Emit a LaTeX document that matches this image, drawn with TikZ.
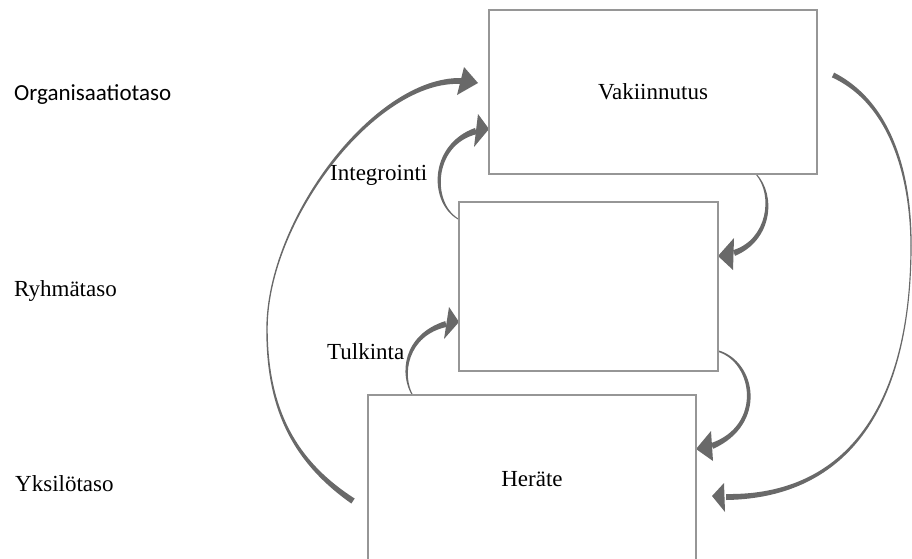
\documentclass[tikz,border=0pt]{standalone}
\usepackage{fontspec}
\setmainfont{Liberation Serif}
\newfontfamily\calibrifont{Carlito}
\usetikzlibrary{calc}

\definecolor{boxline}{RGB}{150,150,150}
\definecolor{arrowfill}{RGB}{105,105,105}

% Tapered cubic stroke: #1..#4 are the curve's points (start, two controls, end),
% #5..#8 the half widths at those points.
\newcommand\tapercurve[8]{%
  \fill[arrowfill]
    ($(#1)!#5!90:(#2)$) .. controls ($(#2)!#6!90:(#3)$) and ($(#3)!#7!-90:(#2)$) .. ($(#4)!#8!-90:(#3)$)
    -- ($(#4)!#8!90:(#3)$) .. controls ($(#3)!#7!90:(#2)$) and ($(#2)!#6!-90:(#3)$) .. ($(#1)!#5!-90:(#2)$)
    -- cycle;
}
% Triangular arrow head: tip and the two base corners
\newcommand\headtri[3]{\fill[arrowfill] (#1) -- (#2) -- (#3) -- cycle;}

\begin{document}
\begin{tikzpicture}[x=1pt,y=-1pt,
  box/.style={draw=boxline,line width=1.2pt,fill=white,rectangle,inner sep=0pt},
  serifl/.style={inner sep=0pt,text=black,font=\fontsize{23}{27}\selectfont},
  sansl/.style={inner sep=0pt,text=black,font=\calibrifont\fontsize{23}{27}\selectfont}]

\useasboundingbox (0,0) rectangle (912,558);
\clip (0,0) rectangle (912,558);

% ---------- curve points ----------
% long arc on the left (individual -> organisation)
\coordinate (a0) at (353,501); \coordinate (a1) at (295,462);
\coordinate (a2) at (267,410); \coordinate (a3) at (267,329);
\coordinate (a4) at (267,219); \coordinate (a5) at (376,78);
\coordinate (a6) at (461,81);
\coordinate (ah) at (478,83);  \coordinate (ahu) at (464,67); \coordinate (ahd) at (457,95);
% integration arc
\coordinate (b0) at (460,220); \coordinate (b1) at (430,205);
\coordinate (b2) at (430,145); \coordinate (b3) at (476,131);
\coordinate (bh) at (489,129); \coordinate (bhu) at (478,114); \coordinate (bhd) at (474,147);
% interpretation arc
\coordinate (c0) at (413,396); \coordinate (c1) at (400,375);
\coordinate (c2) at (405,335); \coordinate (c3) at (446,324);
\coordinate (ch) at (459,322); \coordinate (chu) at (449,307); \coordinate (chd) at (444,339);
% top box -> middle box
\coordinate (d0) at (756,174); \coordinate (d1) at (775,195);
\coordinate (d2) at (770,240); \coordinate (d3) at (734,253);
\coordinate (dh) at (718,256); \coordinate (dhu) at (734,238); \coordinate (dhd) at (733,270);
% middle box -> bottom box
\coordinate (e0) at (718,351); \coordinate (e1) at (755,362);
\coordinate (e2) at (765,425); \coordinate (e3) at (712,446);
\coordinate (eh) at (696,449); \coordinate (ehu) at (711,431); \coordinate (ehd) at (713,461);
% long arc on the right (organisation -> individual)
\coordinate (f0) at (833,75);  \coordinate (f1) at (893,104);
\coordinate (f2) at (911,180); \coordinate (f3) at (911,245);
\coordinate (f4) at (911,405); \coordinate (f5) at (848,497);
\coordinate (f6) at (726,497);
\coordinate (fh) at (712,496); \coordinate (fhu) at (724,483); \coordinate (fhd) at (725,512);

% ---------- arrows ----------
\tapercurve{a0}{a1}{a2}{a3}{3pt}{1.7pt}{1pt}{0.7pt}
\tapercurve{a3}{a4}{a5}{a6}{0.7pt}{0.5pt}{2.2pt}{3pt}
\headtri{ah}{ahu}{ahd}

\tapercurve{b0}{b1}{b2}{b3}{0.5pt}{1.5pt}{2.5pt}{3.2pt}
\headtri{bh}{bhu}{bhd}

\tapercurve{c0}{c1}{c2}{c3}{0.5pt}{1.2pt}{2.5pt}{3pt}
\headtri{ch}{chu}{chd}

\tapercurve{d0}{d1}{d2}{d3}{0.5pt}{1.5pt}{2.5pt}{3pt}
\headtri{dh}{dhu}{dhd}

\tapercurve{e0}{e1}{e2}{e3}{0.8pt}{2pt}{2.5pt}{3pt}
\headtri{eh}{ehu}{ehd}

\tapercurve{f0}{f1}{f2}{f3}{2.6pt}{1.8pt}{0.9pt}{0.6pt}
\tapercurve{f3}{f4}{f5}{f6}{0.6pt}{0.4pt}{2pt}{3pt}
\headtri{fh}{fhu}{fhd}

% ---------- boxes ----------
\node[box,serifl,minimum width=328pt,minimum height=164pt] (vak) at (653,92) {Vakiinnutus};
\node[box,minimum width=259pt,minimum height=169pt] (mid) at (588.5,286.5) {};
\node[box,serifl,minimum width=328pt,minimum height=168pt] (her) at (532,479) {Heräte};

% ---------- level labels ----------
\node[sansl,anchor=base west] (org) at (14,100) {Organisaatiotaso};
\node[serifl,anchor=base west] (ryh) at (14,296) {Ryhmätaso};
\node[serifl,anchor=base west] (yks) at (15,491) {Yksilötaso};

% ---------- arrow labels ----------
\node[serifl,anchor=base west] (int) at (330,180) {Integrointi};
\node[serifl,anchor=base west] (tul) at (327,359) {Tulkinta};
\end{tikzpicture}
\end{document}
